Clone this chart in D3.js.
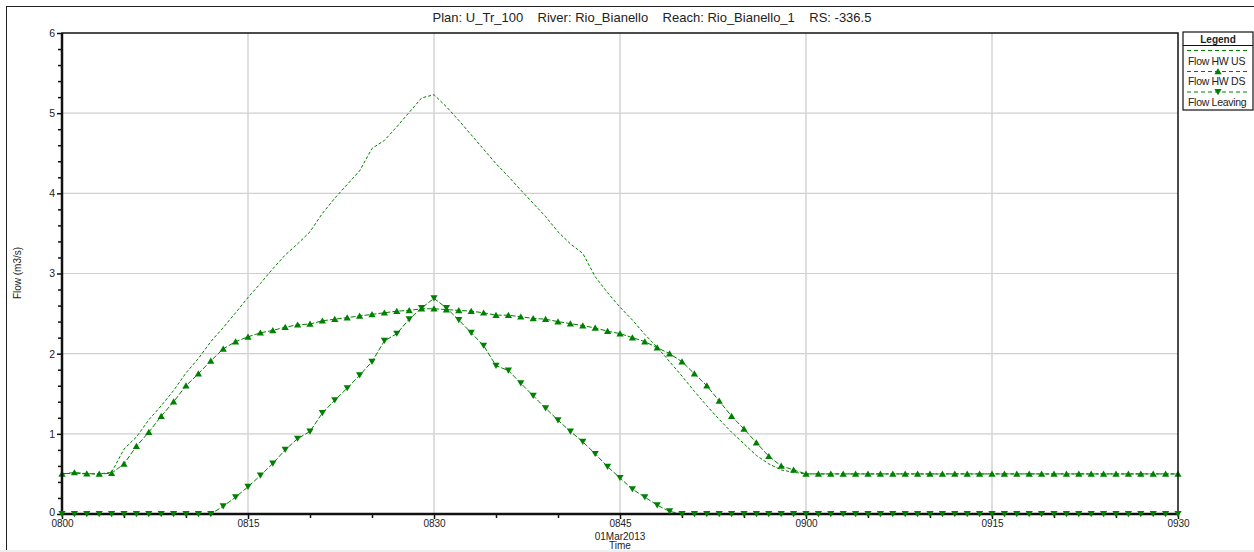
<!DOCTYPE html>
<html><head><meta charset="utf-8">
<script src="https://cdn.jsdelivr.net/npm/d3@7"></script>
<style>
body{margin:0;background:#fff;}
text{font-family:"Liberation Sans",Arial,sans-serif;fill:#222;}
</style></head>
<body>
<svg id="c" width="1254" height="552"></svg>
<script>
const titleText = "Plan: U_Tr_100    River: Rio_Bianello    Reach: Rio_Bianello_1    RS: -336.5";
const xTickMinutes = [0, 15, 30, 45, 60, 75, 90];
const xTickLabels = ["0800", "0815", "0830", "0845", "0900", "0915", "0930"];
const yTicks = [0, 1, 2, 3, 4, 5, 6];
const seriesNames = ["Flow HW US", "Flow HW DS", "Flow Leaving"];
// minutes after 08:00, one value per minute (0..90)
const flowHWUS = [
  0.5,0.51,0.5,0.5,0.52,0.81,0.96,1.175,1.35,1.54,
  1.76,1.94,2.15,2.325,2.51,2.70,2.875,3.06,3.23,3.37,
  3.52,3.75,3.94,4.11,4.28,4.56,4.66,4.83,5.01,5.19,
  5.23,5.08,4.91,4.73,4.55,4.37,4.21,4.04,3.875,3.71,
  3.52,3.37,3.25,2.96,2.76,2.58,2.42,2.24,2.08,1.90,
  1.72,1.53,1.35,1.18,1.02,0.875,0.73,0.625,0.55,0.52,
  0.5,0.5,0.5,0.5,0.5,0.5,0.5,0.5,0.5,0.5,
  0.5,0.5,0.5,0.5,0.5,0.5,0.5,0.5,0.5,0.5,
  0.5,0.5,0.5,0.5,0.5,0.5,0.5,0.5,0.5,0.5,
  0.5];
const flowHWDS = [
  0.5,0.517,0.504,0.5,0.508,0.625,0.846,1.02,1.22,1.40,
  1.60,1.75,1.91,2.06,2.15,2.21,2.26,2.29,2.33,2.36,
  2.37,2.41,2.43,2.45,2.47,2.49,2.51,2.53,2.54,2.56,
  2.56,2.55,2.54,2.53,2.51,2.48,2.48,2.46,2.44,2.43,
  2.40,2.375,2.35,2.32,2.28,2.25,2.20,2.15,2.075,2.0,
  1.90,1.75,1.60,1.41,1.22,1.06,0.89,0.72,0.60,0.55,
  0.5,0.5,0.5,0.5,0.5,0.5,0.5,0.5,0.5,0.5,
  0.5,0.5,0.5,0.5,0.5,0.5,0.5,0.5,0.5,0.5,
  0.5,0.5,0.5,0.5,0.5,0.5,0.5,0.5,0.5,0.5,
  0.5];
const flowLeaving = [
  0,0,0,0,0,0,0,0,0,0,
  0,0,0,0.096,0.21,0.34,0.48,0.63,0.80,0.94,
  1.03,1.26,1.42,1.57,1.73,1.90,2.16,2.25,2.43,2.57,
  2.69,2.57,2.42,2.26,2.10,1.85,1.79,1.63,1.475,1.32,
  1.17,1.03,0.90,0.75,0.59,0.45,0.31,0.21,0.11,0.033,
  0,0,0,0,0,0,0,0,0,0,
  0,0,0,0,0,0,0,0,0,0,
  0,0,0,0,0,0,0,0,0,0,
  0,0,0,0,0,0,0,0,0,0,
  0];

const svg = d3.select("#c");
const L = 62, R = 1178, T = 33, B = 514;
const x = d3.scaleLinear().domain([0, 90]).range([L, R]);
const y = d3.scaleLinear().domain([0, 6]).range([B, T]);
const green = "#008000";
const FONT = "Liberation Sans, Arial, sans-serif";

// outer frame
svg.append("line").attr("x1",6.5).attr("x2",6.5).attr("y1",6).attr("y2",550).attr("stroke","#222").attr("stroke-width",1);
svg.append("line").attr("x1",6).attr("x2",1254).attr("y1",6.5).attr("y2",6.5).attr("stroke","#222").attr("stroke-width",1);
svg.append("rect").attr("x",0).attr("y",550).attr("width",1254).attr("height",2).attr("fill","#eee");

// title
svg.append("text").attr("x",652).attr("y",22).attr("text-anchor","middle").attr("font-size",13)
  .attr("xml:space","preserve").style("white-space","pre").text(titleText);

// grid
svg.append("g").selectAll("line").data(yTicks.filter(d=>d>0&&d<6)).join("line")
  .attr("x1",L).attr("x2",R).attr("y1",d=>y(d)).attr("y2",d=>y(d)).attr("stroke","#cfcfcf").attr("stroke-width",1.2);
svg.append("g").selectAll("line").data(xTickMinutes.filter(d=>d>0&&d<90)).join("line")
  .attr("x1",d=>x(d)).attr("x2",d=>x(d)).attr("y1",T).attr("y2",B).attr("stroke","#d6d6d6").attr("stroke-width",1.6);

// axes
const yAxis = d3.axisLeft(y).tickValues(yTicks).tickSize(5).tickPadding(2).tickFormat(d3.format("d"));
const gy = svg.append("g").attr("transform",`translate(${L},0)`).call(yAxis);
const yMinor = d3.axisLeft(y).tickValues(d3.range(0,6.01,0.2).filter(v=>Math.abs(v-Math.round(v))>0.01)).tickSize(4).tickFormat("");
const gym = svg.append("g").attr("transform",`translate(${L},0)`).call(yMinor);
const xAxis = d3.axisBottom(x).tickValues(xTickMinutes).tickSize(5).tickPadding(1).tickFormat((d,i)=>xTickLabels[i]);
const gx = svg.append("g").attr("transform",`translate(0,${B})`).call(xAxis);
const xMinor = d3.axisBottom(x).tickValues(d3.range(0,91,5).filter(v=>v%15!==0)).tickSize(4).tickFormat("");
const gxm = svg.append("g").attr("transform",`translate(0,${B})`).call(xMinor);
[gy,gym,gx,gxm].forEach(g=>{
  g.select(".domain").remove();
  g.selectAll("line").attr("stroke","#111").attr("stroke-width",1.5);
  g.selectAll("text").attr("font-size",10.5).attr("fill","#222").style("font-family",FONT);
});
gx.selectAll("text").attr("font-size",10);
gy.selectAll(".tick").filter(d=>d===0).select("text").attr("dy","0.1em");

svg.append("text").attr("x",620).attr("y",539.5).attr("text-anchor","middle").attr("font-size",10).text("01Mar2013");
svg.append("text").attr("x",620).attr("y",549).attr("text-anchor","middle").attr("font-size",10).text("Time");
svg.append("text").attr("transform","translate(21,273) rotate(-90)").attr("text-anchor","middle").attr("font-size",10).text("Flow (m3/s)");

// series
const line = d3.line().x((d,i)=>x(i)).y(d=>y(d));
const downPath = "M0,3.2L3.6,-3L-3.6,-3Z";
const upPath = "M0,-3.4L3.6,2.8L-3.6,2.8Z";
const plot = svg.append("g");
plot.append("path").datum(flowHWUS).attr("d",line).attr("fill","none").attr("stroke",green).attr("stroke-width",1).attr("stroke-dasharray","3,2");
plot.append("path").datum(flowHWDS).attr("d",line).attr("fill","none").attr("stroke",green).attr("stroke-width",1).attr("stroke-dasharray","5,2");
plot.append("path").datum(flowLeaving).attr("d",line).attr("fill","none").attr("stroke",green).attr("stroke-width",1).attr("stroke-dasharray","5,2");
plot.append("g").selectAll("path").data(flowHWDS).join("path")
  .attr("d",upPath).attr("transform",(d,i)=>`translate(${x(i)},${y(d)})`).attr("fill",green);

// frame
svg.append("rect").attr("x",L).attr("y",T).attr("width",R-L).attr("height",B-T).attr("fill","none").attr("stroke","#111").attr("stroke-width",1.5);
svg.append("line").attr("x1",L).attr("x2",L).attr("y1",T).attr("y2",B+1).attr("stroke","#111").attr("stroke-width",2.5);
svg.append("line").attr("x1",L).attr("x2",R).attr("y1",B).attr("y2",B).attr("stroke","#111").attr("stroke-width",2.5);

svg.append("g").selectAll("path").data(flowLeaving).join("path")
  .attr("d",downPath).attr("transform",(d,i)=>`translate(${x(i)},${y(d)})`).attr("fill",green);

// legend
const lg = svg.append("g");
lg.append("rect").attr("x",1183).attr("y",32).attr("width",70).attr("height",78).attr("fill","#fff").attr("stroke","#111").attr("stroke-width",1.2);
lg.append("line").attr("x1",1183).attr("x2",1253).attr("y1",45.5).attr("y2",45.5).attr("stroke","#111").attr("stroke-width",1);
lg.append("text").attr("x",1218).attr("y",43).attr("text-anchor","middle").attr("font-size",10).attr("font-weight","bold").text("Legend");
const legY = [50.5, 71.5, 92];
const legTextY = [65, 84.5, 106];
seriesNames.forEach((n,i)=>{
  lg.append("line").attr("x1",1187).attr("x2",1250).attr("y1",legY[i]).attr("y2",legY[i]).attr("stroke",green).attr("stroke-width",1).attr("stroke-dasharray","4,3");
  if(i===1) lg.append("path").attr("d",upPath).attr("transform",`translate(1218,${legY[i]})`).attr("fill",green);
  if(i===2) lg.append("path").attr("d",downPath).attr("transform",`translate(1218,${legY[i]})`).attr("fill",green);
  lg.append("text").attr("x",1188).attr("y",legTextY[i]).attr("font-size",10.5).attr("letter-spacing",-0.3).text(n);
});
</script>
</body></html>
